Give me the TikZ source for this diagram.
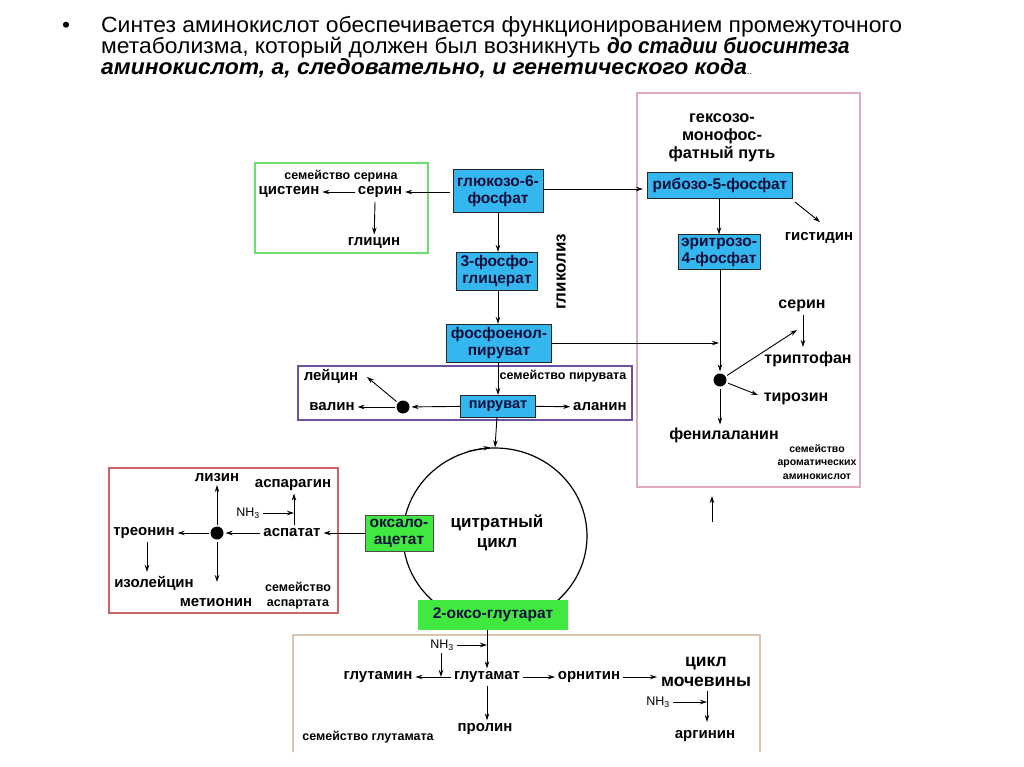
\documentclass[tikz,border=0pt]{standalone}
\usepackage{fontspec}
\setmainfont{Liberation Sans}
\newfontfamily\titlefont[FakeStretch=1.04]{Liberation Sans}
\newfontfamily\titlebi[FakeStretch=0.94]{Liberation Sans}
\usetikzlibrary{arrows.meta,shapes.geometric,calc}
\definecolor{boxblue}{RGB}{52,182,238}
\definecolor{boxgreen}{RGB}{64,232,64}
\definecolor{frgreen}{RGB}{110,220,110}
\definecolor{frpurple}{RGB}{110,80,160}
\definecolor{frpink}{RGB}{225,170,185}
\definecolor{frred}{RGB}{205,100,100}
\definecolor{frtan}{RGB}{215,195,175}
\definecolor{navy}{RGB}{15,15,60}
\begin{document}
\begin{tikzpicture}[x=1pt,y=-1pt,
  lbl/.style={font=\bfseries\fontsize{15}{17}\selectfont, inner sep=0pt, outer sep=3pt},
  lblb/.style={font=\bfseries\fontsize{16}{18}\selectfont, inner sep=0pt, outer sep=3pt},
  sml/.style={font=\bfseries\fontsize{12.5}{15}\selectfont, inner sep=0pt, outer sep=2pt, align=center},
  tiny/.style={font=\bfseries\fontsize{10.5}{13.5}\selectfont, inner sep=0pt, outer sep=2pt, align=center},
  nh/.style={font=\fontsize{12.5}{14}\selectfont, inner sep=0pt, outer sep=3pt},
  bbox/.style={draw=black!85, fill=boxblue, text=navy, font=\bfseries\fontsize{15.5}{17}\selectfont, align=center, inner sep=0pt, outer sep=0pt},
  gbox/.style={draw=none, fill=boxgreen, text=navy, font=\bfseries\fontsize{15.5}{17}\selectfont, align=center, inner sep=0pt, outer sep=0pt},
  big/.style={font=\bfseries\fontsize{17}{20}\selectfont, align=center, inner sep=0pt, outer sep=3pt},
  arr/.style={-{Stealth[length=7pt,width=4.5pt]}, line width=0.9pt},
  dot/.style={circle, fill=black, inner sep=0pt, minimum size=13pt, outer sep=2pt},
  ttl/.style={font=\titlefont\fontsize{22}{22}\selectfont, inner sep=0pt, anchor=base west}
]
\useasboundingbox (0,0) rectangle (1024,767);
\fill[white] (0,0) rectangle (1024,767);

% title
\node[ttl] (bul) at (62,33) {•};
\node[ttl] (t1) at (101,33) {Синтез аминокислот обеспечивается функционированием промежуточного};
\node[ttl] (t2) at (101,54) {метаболизма, который должен был возникнуть {\titlebi\bfseries\itshape до стадии биосинтеза}};
\node[ttl] (t3) at (101,75) {\textbf{\itshape аминокислот, а, следовательно, и генетического кода}\fontsize{9}{10}\selectfont..};

% frames
\draw[frgreen, line width=1.2pt] (255,163) rectangle (428,253);
\draw[frpurple, line width=1.1pt] (298,366) rectangle (632,420);
\draw[frpink, line width=1.1pt] (637,93) rectangle (860,487);
\draw[frred, line width=1.2pt] (109,468) rectangle (338,613);
\draw[frtan, line width=1.1pt] (293,752) -- (293,635) -- (760,635) -- (760,752);

% citrate cycle
\node[draw, ellipse, line width=1.2pt, minimum width=184pt, minimum height=176pt, inner sep=0pt] (cyc) at (495,536) {};
\draw[arr] (cyc.108) to[bend left=3] (cyc.93);
\node[big] (cyctxt) at (497,533) {цитратный\\цикл};

% boxes
\node[bbox, minimum width=90pt, minimum height=43pt] (glu) at (498,191) {глюкозо-6-\\фосфат};
\node[bbox, minimum width=81pt, minimum height=38pt] (pg) at (497,271) {3-фосфо-\\глицерат};
\node[bbox, minimum width=105pt, minimum height=38pt] (pep) at (499,343) {фосфоенол-\\пируват};
\node[bbox, font=\bfseries\fontsize{14.5}{16}\selectfont, minimum width=75pt, minimum height=22pt] (pyr) at (498,406) {пируват};
\node[bbox, minimum width=145pt, minimum height=26pt] (rib) at (720,185) {рибозо-5-фосфат};
\node[bbox, minimum width=82pt, minimum height=35pt] (ery) at (719,252) {эритрозо-\\4-фосфат};
\node[gbox, draw=black!70, minimum width=68pt, minimum height=36pt] (oxa) at (399,533) {оксало-\\ацетат};
\node[gbox, minimum width=150pt, minimum height=30pt] (oxg) at (493,615) {2-оксо-глутарат};

% glycolysis label
\node[font=\bfseries\fontsize{17}{19}\selectfont, rotate=90, inner sep=0pt] (glyc) at (561,272) {гликолиз};

% serine family
\node[sml] (sfam) at (341,176) {семейство серина};
\node[lbl] (cys) at (289,192) {цистеин};
\node[lbl] (ser) at (380,192) {серин};
\node[lbl] (gly) at (374,243) {глицин};
\coordinate (gluw) at (450,192);
\draw[arr] (gluw) -- (ser);
\draw[arr] (ser) -- (cys);
\coordinate (ser2a) at (375,202);
\draw[arr] (ser2a) -- (gly);

% glycolysis chain
\draw[arr] (glu.south -| 498,0) -- (pg.north -| 498,0);
\draw[arr] (pg.south -| 498,0) -- (pep.north -| 498,0);
\draw[arr] (pep.south -| 498,0) -- (pyr.north -| 498,0);
\coordinate (ribin) at (643,189);
\draw[arr] (glu.east |- ribin) -- (ribin);

% pentose phosphate
\node[font=\bfseries\fontsize{16.3}{18}\selectfont, align=center, inner sep=0pt] (hmp) at (722,138) {гексозо-\\монофос-\\фатный путь};
\node[lbl] (his) at (819,238) {гистидин};
\coordinate (rib2) at (795,202);
\coordinate (his2) at (820,222);
\draw[arr] (rib2) -- (his2);
\draw[arr] (rib.south -| 719,0) -- (ery.north -| 719,0);

% aromatic family
\node[dot] (dar) at (720,380) {};
\coordinate (aj) at (719,343);
\draw[arr] (pep.east |- aj) -- (aj);
\draw[arr] (ery.south -| dar) -- (dar);
\node[lblb] (ser2) at (802,306) {серин};
\node[lblb] (trp) at (808,359) {триптофан};
\node[lblb] (tyr) at (796,399) {тирозин};
\node[lblb] (phe) at (724,435) {фенилаланин};
\node[tiny] (afam) at (817,462) {семейство\\ароматических\\аминокислот};
\coordinate (trpend) at (797,330);
\draw[arr] (dar) -- (trpend);
\draw[arr] (ser2.south -| 803,0) -- (803,347);
\draw[arr] (dar) -- (758,395);
\draw[arr] (dar) -- (phe.north -| dar);
\coordinate (up1) at (712,522);
\coordinate (up2) at (712,496);
\draw[arr] (up1) -- (up2);

% pyruvate family
\node[sml] (pfam) at (563,376) {семейство пирувата};
\node[lbl] (leu) at (331,376) {лейцин};
\node[lbl] (val) at (332,407) {валин};
\node[lbl] (ala) at (600,407) {аланин};
\node[dot] (dpy) at (403,407) {};
\draw[arr] (pyr) -- (dpy);
\draw[arr] (dpy) -- (val);
\coordinate (leu2) at (367,377);
\draw[arr] (dpy) -- (leu2);
\draw[arr] (pyr) -- (ala);
\draw[arr] (pyr.south -| 497,0) -- (cyc.north);

% aspartate family
\node[lbl] (asp) at (292,533) {аспатат};
\node[dot] (das) at (217,533) {};
\node[lbl] (lys) at (217,478) {лизин};
\node[lbl] (asn) at (293,485) {аспарагин};
\node[nh] (nh1) at (248,513) {NH\textsubscript{3}};
\node[lbl] (thr) at (144,533) {треонин};
\node[lbl] (ile) at (154,583) {изолейцин};
\node[lbl] (met) at (216,603) {метионин};
\node[sml] (afm) at (298,596) {семейство\\аспартата};
\draw[arr] (oxa) -- (asp);
\draw[arr] (asp) -- (das);
\draw[arr] (das) -- (lys);
\draw[arr] (das) -- (thr);
\draw[arr] (das) -- (217,582);
\coordinate (thr2) at (147,542);
\draw[arr] (thr2) -- (147,572);
\coordinate (asj) at (294,513);
\draw[arr] (294,525) -- (asn.south -| 294,0);
\draw[arr] (nh1) -- (asj);

% glutamate family
\node[lbl] (glt) at (487,677) {глутамат};
\node[lbl] (gln) at (378,677) {глутамин};
\node[lbl] (orn) at (589,677) {орнитин};
\node[lbl] (pro) at (485,729) {пролин};
\node[font=\bfseries\fontsize{17.5}{20}\selectfont, align=center, inner sep=0pt, outer sep=3pt] (urea) at (706,672) {цикл\\мочевины};
\node[lbl] (arg) at (705,736) {аргинин};
\node[nh] (nh2) at (442,645) {NH\textsubscript{3}};
\node[nh] (nh3) at (658,702) {NH\textsubscript{3}};
\node[sml] (gfam) at (368,737) {семейство глутамата};
\coordinate (gj) at (487,645);
\draw[arr] (oxg.south -| 487,0) -- (glt);
\draw[arr] (nh2) -- (gj);
\draw[arr] (glt) -- (gln);
\coordinate (gnj) at (441,677);
\draw[arr] (441,653) -- (gnj);
\draw[arr] (glt) -- (orn);
\coordinate (ureaw) at (657,677);
\draw[arr] (orn) -- (ureaw);
\draw[arr] (glt.south -| 487,0) -- (pro.north -| 487,0);
\coordinate (uj) at (707,702);
\draw[arr] (707,691) -- (707,722);
\draw[arr] (nh3) -- (uj);
\end{tikzpicture}
\end{document}
